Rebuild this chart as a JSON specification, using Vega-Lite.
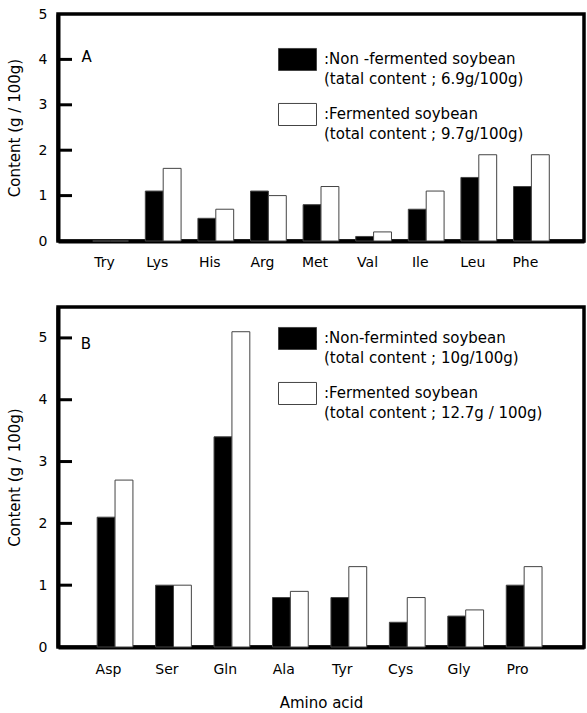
{
  "$schema": "https://vega.github.io/schema/vega-lite/v6.json",
  "padding": {"left": 5, "top": 5, "right": 0, "bottom": 0},
  "spacing": 34,
  "datasets": {
    "a": [
      {"acid": "Try", "type": "Non", "value": 0},
      {"acid": "Try", "type": "Fer", "value": 0},
      {"acid": "Lys", "type": "Non", "value": 1.1},
      {"acid": "Lys", "type": "Fer", "value": 1.6},
      {"acid": "His", "type": "Non", "value": 0.5},
      {"acid": "His", "type": "Fer", "value": 0.7},
      {"acid": "Arg", "type": "Non", "value": 1.1},
      {"acid": "Arg", "type": "Fer", "value": 1.0},
      {"acid": "Met", "type": "Non", "value": 0.8},
      {"acid": "Met", "type": "Fer", "value": 1.2},
      {"acid": "Val", "type": "Non", "value": 0.1},
      {"acid": "Val", "type": "Fer", "value": 0.2},
      {"acid": "Ile", "type": "Non", "value": 0.7},
      {"acid": "Ile", "type": "Fer", "value": 1.1},
      {"acid": "Leu", "type": "Non", "value": 1.4},
      {"acid": "Leu", "type": "Fer", "value": 1.9},
      {"acid": "Phe", "type": "Non", "value": 1.2},
      {"acid": "Phe", "type": "Fer", "value": 1.9}
    ],
    "b": [
      {"acid": "Asp", "type": "Non", "value": 2.1},
      {"acid": "Asp", "type": "Fer", "value": 2.7},
      {"acid": "Ser", "type": "Non", "value": 1.0},
      {"acid": "Ser", "type": "Fer", "value": 1.0},
      {"acid": "Gln", "type": "Non", "value": 3.4},
      {"acid": "Gln", "type": "Fer", "value": 5.1},
      {"acid": "Ala", "type": "Non", "value": 0.8},
      {"acid": "Ala", "type": "Fer", "value": 0.9},
      {"acid": "Tyr", "type": "Non", "value": 0.8},
      {"acid": "Tyr", "type": "Fer", "value": 1.3},
      {"acid": "Cys", "type": "Non", "value": 0.4},
      {"acid": "Cys", "type": "Fer", "value": 0.8},
      {"acid": "Gly", "type": "Non", "value": 0.5},
      {"acid": "Gly", "type": "Fer", "value": 0.6},
      {"acid": "Pro", "type": "Non", "value": 1.0},
      {"acid": "Pro", "type": "Fer", "value": 1.3}
    ],
    "la": [{"panel": "A"}],
    "lb": [{"panel": "B"}],
    "ta": [{"v": 1}, {"v": 2}, {"v": 3}, {"v": 4}],
    "tb": [{"v": 1}, {"v": 2}, {"v": 3}, {"v": 4}, {"v": 5}]
  },
  "config": {
    "font": "DejaVu Sans",
    "view": {"stroke": "black", "strokeWidth": 3.5},
    "axis": {
      "domainColor": "black",
      "domainWidth": 4,
      "labelColor": "black",
      "labelFontSize": 14,
      "titleColor": "black",
      "titleFontSize": 15,
      "titleFontWeight": "normal",
      "grid": false
    },
    "style": {"guide-label": {"lineHeight": 20}}
  },
  "resolve": {"scale": {"fill": "independent", "x": "independent"}},
  "vconcat": [
    {
      "width": 526,
      "height": 227,
      "layer": [
        {
          "data": {"name": "a"},
          "mark": {"type": "bar", "stroke": "#444", "strokeWidth": 1},
          "encoding": {
            "x": {
              "field": "acid", "type": "nominal", "sort": null,
              "scale": {"paddingInner": 0.32, "paddingOuter": 0.66},
              "axis": {"title": null, "labelAngle": 0, "ticks": false, "labelPadding": 14, "labelOffset": -6}
            },
            "xOffset": {"field": "type", "sort": ["Non", "Fer"]},
            "y": {
              "field": "value", "type": "quantitative",
              "scale": {"domain": [0, 5], "nice": false},
              "axis": {"title": "Content (g / 100g)", "values": [0, 1, 2, 3, 4, 5], "format": "d", "ticks": false, "labelPadding": 11, "titlePadding": 16}
            },
            "fill": {
              "field": "type", "type": "nominal",
              "scale": {"domain": ["Non", "Fer"], "range": ["black", "white"]},
              "legend": {
                "orient": "none", "legendX": 220, "legendY": 18, "title": null,
                "symbolType": "M-1,-0.16L1,-0.16L1,1L-1,1Z", "symbolSize": 1444,
                "symbolStrokeColor": "#444", "symbolStrokeWidth": 1,
                "labelFontSize": 15, "labelColor": "black", "labelLimit": 400,
                "labelExpr": "datum.value == 'Non' ? [':Non -fermented soybean', '(tatal content ; 6.9g/100g)'] : [':Fermented soybean', '(total content ; 9.7g/100g)']",
                "labelBaseline": "top", "rowPadding": -11, "labelOffset": 7, "padding": 0
              }
            }
          }
        },
        {
          "data": {"name": "ta"},
          "mark": {"type": "tick", "orient": "horizontal", "color": "black", "opacity": 1, "thickness": 3, "size": 12},
          "encoding": {
            "y": {"field": "v", "type": "quantitative"},
            "x": {"value": 8}
          }
        },
        {
          "data": {"name": "la"},
          "mark": {"type": "text", "align": "right", "baseline": "middle", "fontSize": 15, "dx": -1},
          "encoding": {
            "text": {"field": "panel"},
            "x": {"datum": "Try", "bandPosition": 0},
            "y": {"datum": 4.05}
          }
        }
      ]
    },
    {
      "width": 526,
      "height": 340,
      "layer": [
        {
          "data": {"name": "b"},
          "mark": {"type": "bar", "stroke": "#444", "strokeWidth": 1},
          "encoding": {
            "x": {
              "field": "acid", "type": "nominal", "sort": null,
              "scale": {"paddingInner": 0.34, "paddingOuter": 0.67},
              "axis": {"title": "Amino acid", "labelAngle": 0, "ticks": false, "labelPadding": 15, "labelOffset": -8, "titlePadding": 19}
            },
            "xOffset": {"field": "type", "sort": ["Non", "Fer"]},
            "y": {
              "field": "value", "type": "quantitative",
              "scale": {"domain": [0, 5.5], "nice": false},
              "axis": {"title": "Content (g / 100g)", "values": [0, 1, 2, 3, 4, 5], "format": "d", "ticks": false, "labelPadding": 11, "titlePadding": 16}
            },
            "fill": {
              "field": "type", "type": "nominal",
              "scale": {"domain": ["Non", "Fer"], "range": ["black", "white"]},
              "legend": {
                "orient": "none", "legendX": 220, "legendY": 4, "title": null,
                "symbolType": "M-1,-0.16L1,-0.16L1,1L-1,1Z", "symbolSize": 1444,
                "symbolStrokeColor": "#444", "symbolStrokeWidth": 1,
                "labelFontSize": 15, "labelColor": "black", "labelLimit": 400,
                "labelExpr": "datum.value == 'Non' ? [':Non-ferminted soybean', '(total content ; 10g/100g)'] : [':Fermented soybean', ' (total content ; 12.7g / 100g)']",
                "labelBaseline": "top", "rowPadding": -9, "labelOffset": 7, "padding": 0
              }
            }
          }
        },
        {
          "data": {"name": "tb"},
          "mark": {"type": "tick", "orient": "horizontal", "color": "black", "opacity": 1, "thickness": 3, "size": 12},
          "encoding": {
            "y": {"field": "v", "type": "quantitative"},
            "x": {"value": 8}
          }
        },
        {
          "data": {"name": "lb"},
          "mark": {"type": "text", "align": "right", "baseline": "middle", "fontSize": 15, "dx": -6},
          "encoding": {
            "text": {"field": "panel"},
            "x": {"datum": "Asp", "bandPosition": 0},
            "y": {"datum": 4.9}
          }
        }
      ]
    }
  ]
}
